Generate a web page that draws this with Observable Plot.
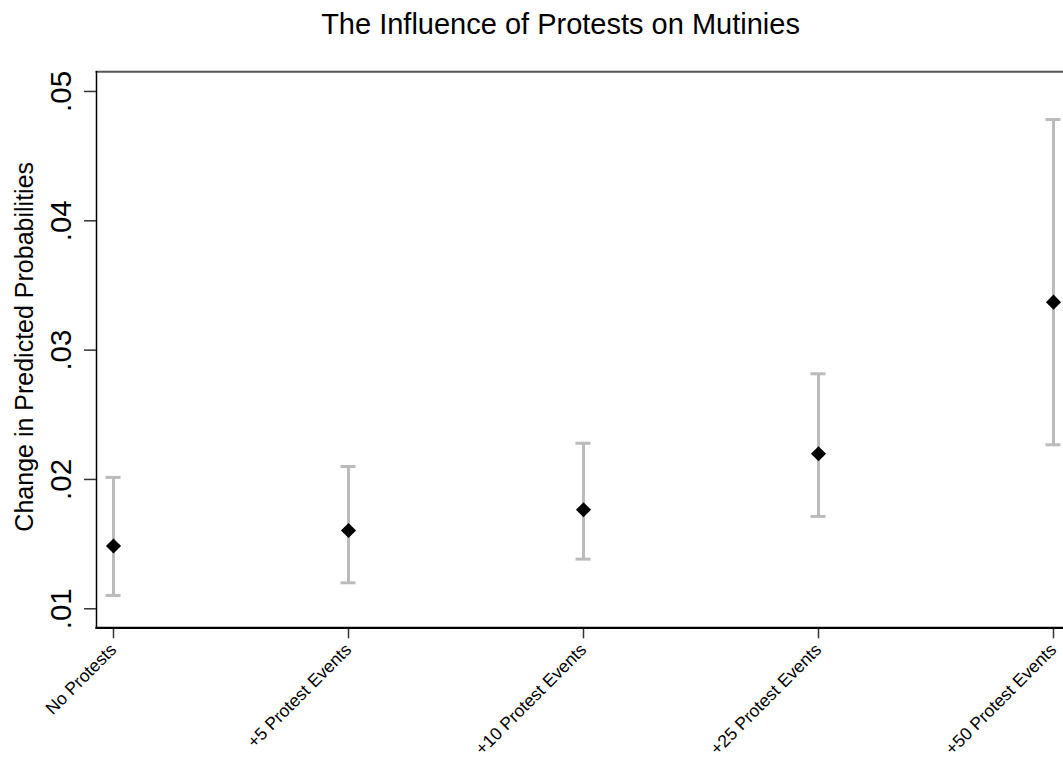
<!DOCTYPE html>
<html>
<head>
<meta charset="utf-8">
<script src="https://cdn.jsdelivr.net/npm/d3@7"></script>
<script src="https://cdn.jsdelivr.net/npm/@observablehq/plot@0.6"></script>
<style>
  html, body { margin: 0; padding: 0; background: #fff; }
  #chart svg { display: block; overflow: visible; }
</style>
</head>
<body>
<div id="chart"></div>
<script>
// Data
const categories = ["No Protests", "+5 Protest Events", "+10 Protest Events", "+25 Protest Events", "+50 Protest Events"];
const estimates = [0.01485, 0.01605, 0.01766, 0.02199, 0.03371];
const lower = [0.01103, 0.01201, 0.01384, 0.01714, 0.02268];
const upper = [0.02016, 0.02100, 0.02280, 0.02817, 0.04783];
const yTicks = [0.01, 0.02, 0.03, 0.04, 0.05];
const yTickLabels = [".01", ".02", ".03", ".04", ".05"];
const title = "The Influence of Protests on Mutinies";
const yLabel = "Change in Predicted Probabilities";

const rows = categories.map((c, i) => ({cat: c, est: estimates[i], lo: lower[i], hi: upper[i]}));
const tickRows = yTicks.map((v, i) => ({v, label: yTickLabels[i]}));

const font = "Arial, 'Liberation Sans', Helvetica, sans-serif";

const chart = Plot.plot({
  width: 1063,
  height: 762,
  marginLeft: 96,
  marginRight: -7,
  marginTop: 71.3,
  marginBottom: 134.7,
  style: {fontFamily: font, background: "#fff", color: "#000"},
  x: {type: "point", domain: categories, padding: 0, inset: 17, label: null},
  y: {domain: [0.00853, 0.05152], label: null},
  marks: [
    // frame sides
    Plot.frame({anchor: "top", stroke: "#555", strokeWidth: 2}),
    Plot.frame({anchor: "left", stroke: "#000", strokeWidth: 1.5}),
    // error bars
    Plot.ruleX(rows, {x: "cat", y1: "lo", y2: "hi", stroke: "#bbbbbb", strokeWidth: 3}),
    Plot.ruleY(rows, {x1: "cat", x2: "cat", y: "hi", stroke: "#bbbbbb", strokeWidth: 3, insetLeft: -7.5, insetRight: -7.5}),
    Plot.ruleY(rows, {x1: "cat", x2: "cat", y: "lo", stroke: "#bbbbbb", strokeWidth: 3, insetLeft: -7.5, insetRight: -7.5}),
    // points
    Plot.dot(rows, {x: "cat", y: "est", symbol: "diamond2", r: 6.8, fill: "#000", stroke: "none"}),
    // y axis ticks
    Plot.axisY({ticks: yTicks, tickSize: 12, tickFormat: () => "", stroke: "#333", strokeWidth: 1.5}),
    // y tick labels (rotated)
    Plot.text(tickRows, {y: "v", text: "label", frameAnchor: "left", dx: -26, rotate: -90,
      textAnchor: "middle", lineAnchor: "bottom", fontSize: 29.5, fill: "#000"}),
    // x axis
    Plot.axisX({tickSize: 11, tickRotate: -45, tickPadding: 8, fontSize: 17.5, stroke: "#333", strokeWidth: 1.5, fill: "#000"}),
    Plot.frame({anchor: "bottom", stroke: "#000", strokeWidth: 2.3}),
    // y label
    Plot.text([yLabel], {frameAnchor: "left", dx: -64, dy: -3, rotate: -90, textAnchor: "middle",
      lineAnchor: "bottom", fontSize: 25, fill: "#000"}),
    // title
    Plot.text([title], {frameAnchor: "top-left", dx: 560 - 96, dy: -38, textAnchor: "middle",
      lineAnchor: "bottom", fontSize: 29, fill: "#000"})
  ]
});
document.getElementById("chart").appendChild(chart);
</script>
</body>
</html>
